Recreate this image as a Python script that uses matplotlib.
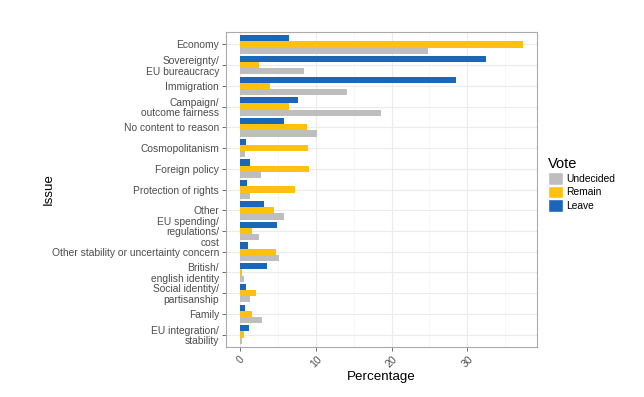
import numpy as np
import matplotlib
matplotlib.use("Agg")
import matplotlib.pyplot as plt
from matplotlib.patches import Patch

plt.rcParams["font.family"] = ["Liberation Sans", "DejaVu Sans"]

# Dane (procenty)
issues = ["Economy", "Sovereignty/\nEU bureaucracy", "Immigration",
          "Campaign/\noutcome fairness", "No content to reason",
          "Cosmopolitanism", "Foreign policy", "Protection of rights",
          "Other", "EU spending/\nregulations/\ncost",
          "Other stability or uncertainty concern",
          "British/\nenglish identity", "Social identity/\npartisanship",
          "Family", "EU integration/\nstability"]
leave = [6.5, 32.5, 28.5, 7.7, 5.8, 0.75, 1.3, 0.85, 3.2, 4.8, 1.1, 3.6, 0.8, 0.6, 1.2]
remain = [37.3, 2.5, 3.9, 6.5, 8.8, 9.0, 9.1, 7.3, 4.5, 1.5, 4.7, 0.2, 2.1, 1.5, 0.45]
undecided = [24.8, 8.4, 14.1, 18.6, 10.1, 0.6, 2.8, 1.35, 5.8, 2.45, 5.1, 0.45, 1.3, 2.9, 0.2]

c_leave = "#1a66b8"
c_remain = "#ffc00f"
c_undec = "#bebebe"

fig = plt.figure(figsize=(6.44, 3.97), dpi=100)
ax = fig.add_axes([226/644, 1-347/397, 311/644, 315/397])

y = np.arange(len(issues))
h = 0.3
ax.barh(y - h, leave, height=h, color=c_leave, zorder=3)
ax.barh(y, remain, height=h, color=c_remain, zorder=3)
ax.barh(y + h, undecided, height=h, color=c_undec, zorder=3)

ax.set_ylim(len(issues) - 0.4, -0.6)
ax.set_xlim(-1.87, 39.2)

ax.set_yticks(y)
ax.set_yticklabels(issues, fontsize=7.4, color="#4d4d4d", ha="right", linespacing=1.05)
ax.set_xticks([0, 10, 20, 30])
ax.set_xticklabels(["0", "10", "20", "30"], fontsize=7.6, color="#4d4d4d",
                   rotation=45, ha="center", va="top")
ax.set_xticks([5, 15, 25, 35], minor=True)

ax.grid(which="major", color="#ebebeb", linewidth=0.8, zorder=0)
ax.grid(which="minor", axis="x", color="#f4f4f4", linewidth=0.5, zorder=0)
ax.tick_params(axis="both", which="major", length=3, color="#555555", width=0.6, pad=2)
ax.tick_params(axis="x", which="minor", length=0)
for s in ax.spines.values():
    s.set_color("#aaaaaa")
    s.set_linewidth(0.8)

ax.set_xlabel("Percentage", fontsize=9.6)
ax.xaxis.set_label_coords(0.5, -0.075)
ax.set_ylabel("Issue", fontsize=9.6)
ax.yaxis.set_label_coords((55 - 226) / 311, 0.5)

handles = [Patch(facecolor=c_undec, edgecolor="white", label="Undecided"),
           Patch(facecolor=c_remain, edgecolor="white", label="Remain"),
           Patch(facecolor=c_leave, edgecolor="white", label="Leave")]
leg = fig.legend(handles=handles, title="Vote", loc="upper left",
                 bbox_to_anchor=(548/644, 1-157/397), frameon=False,
                 fontsize=7.4, title_fontsize=10.5, handlelength=1.5,
                 handleheight=1.5, handletextpad=0.3, labelspacing=0.1,
                 borderaxespad=0, borderpad=0, alignment="left")

fig.savefig("out.png", dpi=100)
